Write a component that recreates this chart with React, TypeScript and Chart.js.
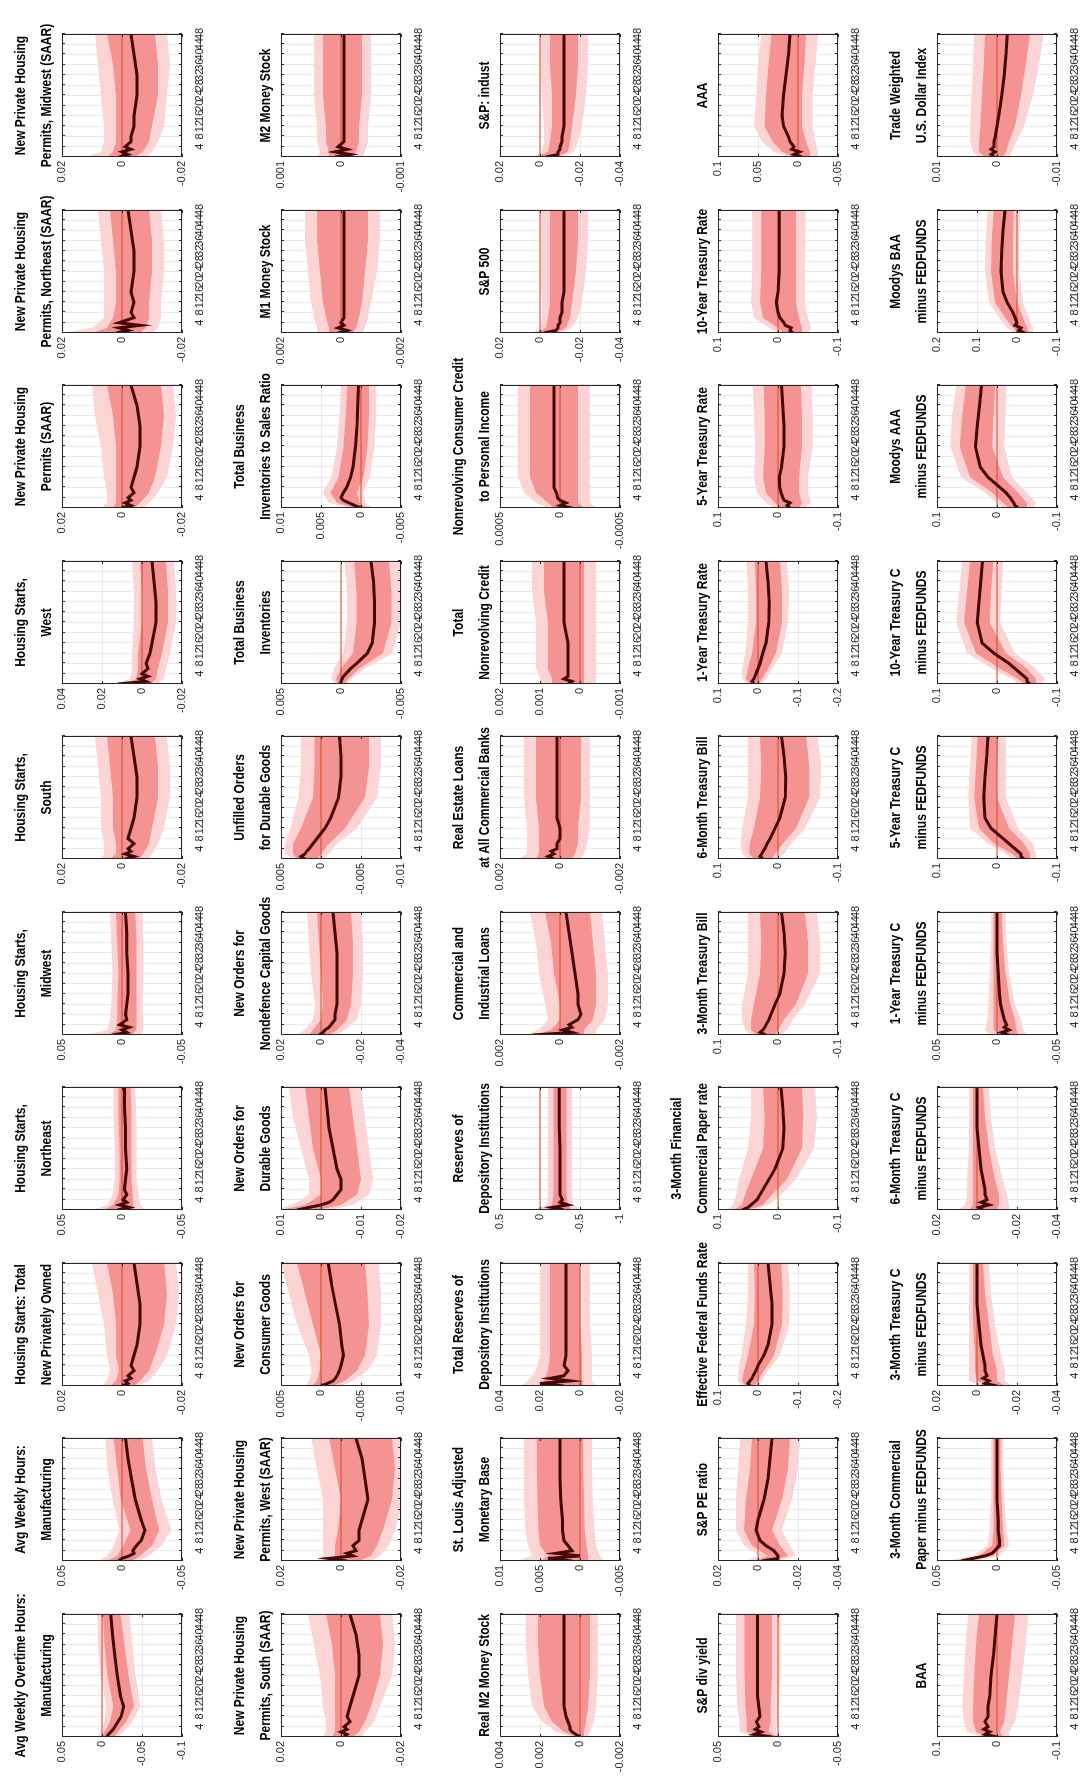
import React, { useEffect, useRef } from "react";
import { Chart, registerables } from "chart.js";
Chart.register(...registerables);

// ---------------- DATA ----------------
const H_MED = [0, 1, 2, 3, 4, 6, 8, 12, 16, 24, 32, 40, 48];
const H_BAND = [0, 2, 6, 12, 24, 36, 48];
const X_TICKS = [4, 8, 12, 16, 20, 24, 28, 32, 36, 40, 44, 48];

const TITLES: string[][] = [
  ["Avg Weekly Overtime Hours:", "Manufacturing"], ["Avg Weekly Hours:", "Manufacturing"], ["Housing Starts: Total", "New Privately Owned"], ["Housing Starts,", "Northeast"], ["Housing Starts,", "Midwest"], ["Housing Starts,", "South"], ["Housing Starts,", "West"], ["New Private Housing", "Permits (SAAR)"], ["New Private Housing", "Permits, Northeast (SAAR)"], ["New Private Housing", "Permits, Midwest (SAAR)"],
  ["New Private Housing", "Permits, South (SAAR)"], ["New Private Housing", "Permits, West (SAAR)"], ["New Orders for", "Consumer Goods"], ["New Orders for", "Durable Goods"], ["New Orders for", "Nondefence Capital Goods"], ["Unfilled Orders", "for Durable Goods"], ["Total Business", "Inventories"], ["Total Business", "Inventories to Sales Ratio"], ["M1 Money Stock"], ["M2 Money Stock"],
  ["Real M2 Money Stock"], ["St. Louis Adjusted", "Monetary Base"], ["Total Reserves of", "Depository Institutions"], ["Reserves of", "Depository Institutions"], ["Commercial and", "Industrial Loans"], ["Real Estate Loans", "at All Commercial Banks"], ["Total", "Nonrevolving Credit"], ["Nonrevolving Consumer Credit", "to Personal Income"], ["S&P 500"], ["S&P: indust"],
  ["S&P div yield"], ["S&P PE ratio"], ["Effective Federal Funds Rate"], ["3-Month Financial", "Commercial Paper rate"], ["3-Month Treasury Bill"], ["6-Month Treasury Bill"], ["1-Year Treasury Rate"], ["5-Year Treasury Rate"], ["10-Year Treasury Rate"], ["AAA"],
  ["BAA"], ["3-Month Commercial", "Paper minus FEDFUNDS"], ["3-Month Treasury C", "minus FEDFUNDS"], ["6-Month Treasury C", "minus FEDFUNDS"], ["1-Year Treasury C", "minus FEDFUNDS"], ["5-Year Treasury C", "minus FEDFUNDS"], ["10-Year Treasury C", "minus FEDFUNDS"], ["Moodys AAA", "minus FEDFUNDS"], ["Moodys BAA", "minus FEDFUNDS"], ["Trade Weighted", "U.S. Dollar Index"],
];

const Y_MIN = [
  -0.1, -0.05, -0.02, -0.05, -0.05, -0.02, -0.02, -0.02, -0.02, -0.02,
  -0.02, -0.02, -0.01, -0.02, -0.04, -0.01, -0.005, -0.005, -0.002, -0.001,
  -0.002, -0.005, -0.02, -1, -0.002, -0.002, -0.001, -0.0005, -0.04, -0.04,
  -0.05, -0.04, -0.2, -0.1, -0.1, -0.1, -0.2, -0.1, -0.1, -0.05,
  -0.1, -0.05, -0.04, -0.04, -0.05, -0.1, -0.1, -0.1, -0.1, -0.01,
];
const Y_MAX = [
  0.05, 0.05, 0.02, 0.05, 0.05, 0.02, 0.04, 0.02, 0.02, 0.02,
  0.02, 0.02, 0.005, 0.01, 0.02, 0.005, 0.005, 0.01, 0.002, 0.001,
  0.004, 0.01, 0.04, 0.5, 0.002, 0.002, 0.002, 0.0005, 0.02, 0.02,
  0.05, 0.02, 0.1, 0.1, 0.1, 0.1, 0.1, 0.1, 0.1, 0.1,
  0.1, 0.05, 0.02, 0.02, 0.05, 0.1, 0.1, 0.1, 0.2, 0.01,
];
const Y_TICKS: number[][] = [
  [0.05, 0, -0.05, -0.1], [0.05, 0, -0.05], [0.02, 0, -0.02], [0.05, 0, -0.05], [0.05, 0, -0.05], [0.02, 0, -0.02], [0.04, 0.02, 0, -0.02], [0.02, 0, -0.02], [0.02, 0, -0.02], [0.02, 0, -0.02],
  [0.02, 0, -0.02], [0.02, 0, -0.02], [0.005, 0, -0.005, -0.01], [0.01, 0, -0.01, -0.02], [0.02, 0, -0.02, -0.04], [0.005, 0, -0.005, -0.01], [0.005, 0, -0.005], [0.01, 0.005, 0, -0.005], [0.002, 0, -0.002], [0.001, 0, -0.001],
  [0.004, 0.002, 0, -0.002], [0.01, 0.005, 0, -0.005], [0.04, 0.02, 0, -0.02], [0.5, 0, -0.5, -1], [0.002, 0, -0.002], [0.002, 0, -0.002], [0.002, 0.001, 0, -0.001], [0.0005, 0, -0.0005], [0.02, 0, -0.02, -0.04], [0.02, 0, -0.02, -0.04],
  [0.05, 0, -0.05], [0.02, 0, -0.02, -0.04], [0.1, 0, -0.1, -0.2], [0.1, 0, -0.1], [0.1, 0, -0.1], [0.1, 0, -0.1], [0.1, 0, -0.1, -0.2], [0.1, 0, -0.1], [0.1, 0, -0.1], [0.1, 0.05, 0, -0.05],
  [0.1, 0, -0.1], [0.05, 0, -0.05], [0.02, 0, -0.02, -0.04], [0.02, 0, -0.02, -0.04], [0.05, 0, -0.05], [0.1, 0, -0.1], [0.1, 0, -0.1], [0.1, 0, -0.1], [0.2, 0.1, 0, -0.1], [0.01, 0, -0.01],
];

// median response at H_MED
const MED: number[][] = [
  [-0.006, -0.008, -0.011, -0.014, -0.016, -0.02, -0.024, -0.027, -0.023, -0.019, -0.016, -0.013, -0.011],
  [0.003, 0, -0.006, -0.01, -0.009, -0.012, -0.016, -0.019, -0.016, -0.011, -0.008, -0.005, -0.003],
  [0, -0.002, -0.001, -0.003, -0.002, -0.004, -0.003, -0.004, -0.005, -0.006, -0.006, -0.005, -0.004],
  [0.004, -0.006, 0.002, -0.004, -0.001, -0.004, -0.002, -0.003, -0.004, -0.003, -0.003, -0.002, -0.002],
  [0.008, -0.004, 0, -0.006, 0.002, -0.004, -0.003, -0.004, -0.005, -0.005, -0.004, -0.004, -0.003],
  [-0.001, -0.004, -0.001, -0.003, -0.002, -0.004, -0.002, -0.003, -0.004, -0.005, -0.005, -0.004, -0.003],
  [0.012, -0.002, 0.001, -0.003, 0, -0.003, -0.002, -0.004, -0.005, -0.007, -0.007, -0.006, -0.005],
  [0, -0.003, -0.001, -0.003, -0.002, -0.004, -0.003, -0.004, -0.005, -0.006, -0.006, -0.005, -0.003],
  [0.002, -0.002, 0.001, -0.006, 0.001, -0.004, -0.003, -0.004, -0.003, -0.004, -0.004, -0.003, -0.002],
  [0.001, -0.002, 0, -0.003, -0.001, -0.003, -0.003, -0.004, -0.004, -0.005, -0.005, -0.004, -0.003],
  [-0.001, -0.002, 0, -0.002, -0.001, -0.003, -0.002, -0.003, -0.004, -0.006, -0.006, -0.005, -0.003],
  [-0.002, 0.004, -0.004, -0.002, -0.005, -0.004, -0.006, -0.006, -0.007, -0.009, -0.008, -0.007, -0.005],
  [0, -0.0008, -0.0015, -0.0018, -0.002, -0.0023, -0.0025, -0.0028, -0.0026, -0.0023, -0.0018, -0.0013, -0.0009],
  [0.006, 0.003, 0, -0.002, -0.003, -0.004, -0.005, -0.005, -0.004, -0.003, -0.002, -0.0015, -0.001],
  [0.001, -0.001, -0.002, -0.004, -0.005, -0.007, -0.007, -0.008, -0.008, -0.008, -0.008, -0.007, -0.006],
  [0.002, 0.0025, 0.002, 0.0018, 0.0015, 0.001, 0.0005, -0.0005, -0.0012, -0.0022, -0.0025, -0.0025, -0.0023],
  [0, 0, -0.0001, -0.0002, -0.0004, -0.0008, -0.0013, -0.0022, -0.0026, -0.0028, -0.0028, -0.0027, -0.0025],
  [0, 0.0008, 0.0015, 0.0022, 0.0025, 0.0022, 0.0018, 0.0013, 0.001, 0.0007, 0.0005, 0.0004, 0.0003],
  [0.0001, -0.0002, 0.0001, -0.0001, 0, -0.0001, -0.0001, -0.0001, -0.0001, -0.0001, -0.0001, -0.0001, -0.0001],
  [0.0001, -0.00015, 0.0001, -0.0001, 0.00005, -0.00005, -0.00005, -0.00005, -0.00005, -0.00005, -0.00005, -0.00005, -0.00005],
  [0, 0.0002, 0.0004, 0.0005, 0.0005, 0.0006, 0.0007, 0.0008, 0.0008, 0.0008, 0.0008, 0.0008, 0.0008],
  [0.001, 0.004, 0, 0.003, 0.001, 0.0015, 0.002, 0.0022, 0.0022, 0.0024, 0.0025, 0.0025, 0.0025],
  [0.008, 0.02, 0.005, 0.015, 0.008, 0.006, 0.008, 0.007, 0.007, 0.007, 0.007, 0.007, 0.007],
  [-0.3, -0.15, -0.35, -0.25, -0.28, -0.25, -0.25, -0.25, -0.25, -0.25, -0.24, -0.24, -0.24],
  [0.0009, -0.0004, -0.0001, -0.0004, -0.0003, -0.0006, -0.0007, -0.0006, -0.0006, -0.0005, -0.0004, -0.0003, -0.0002],
  [0.0002, 0.0004, 0.0002, 0.0003, 0.0001, 0.0001, 0, 0, 0.0001, 0.0001, 0.0001, 0.0001, 0.0001],
  [0.0003, 0.0002, 0.0004, 0.0003, 0.0003, 0.0003, 0.0003, 0.0003, 0.0003, 0.0004, 0.0004, 0.0004, 0.0004],
  [-0.0001, 0, -0.00005, 0, 0.00002, 0.00003, 0.00005, 0.00005, 0.00005, 0.00005, 0.00005, 0.00005, 0.00005],
  [-0.002, -0.008, -0.009, -0.009, -0.01, -0.01, -0.011, -0.011, -0.012, -0.012, -0.012, -0.012, -0.012],
  [-0.003, -0.009, -0.009, -0.01, -0.01, -0.011, -0.011, -0.012, -0.012, -0.012, -0.012, -0.012, -0.012],
  [0.005, 0.02, 0.014, 0.019, 0.016, 0.018, 0.015, 0.016, 0.017, 0.017, 0.017, 0.017, 0.017],
  [-0.002, -0.01, -0.01, -0.009, -0.008, -0.004, -0.001, 0.001, 0, -0.003, -0.005, -0.006, -0.007],
  [0.02, 0.025, 0.02, 0.015, 0.012, 0.005, 0, -0.015, -0.025, -0.035, -0.035, -0.03, -0.025],
  [0.06, 0.05, 0.045, 0.04, 0.035, 0.03, 0.025, 0.015, 0.005, -0.008, -0.01, -0.008, -0.005],
  [0.02, 0.03, 0.025, 0.022, 0.02, 0.015, 0.012, 0.005, -0.003, -0.01, -0.012, -0.01, -0.006],
  [0.025, 0.03, 0.027, 0.025, 0.022, 0.018, 0.013, 0.005, -0.003, -0.012, -0.013, -0.01, -0.006],
  [0.01, 0.015, 0.01, 0.008, 0.005, 0, -0.005, -0.012, -0.02, -0.027, -0.028, -0.025, -0.02],
  [-0.02, -0.015, -0.02, -0.01, -0.008, -0.005, -0.003, -0.002, -0.006, -0.01, -0.01, -0.008, -0.006],
  [-0.025, -0.02, -0.022, -0.012, -0.01, -0.003, 0, 0.003, 0, -0.002, -0.002, -0.002, -0.002],
  [-0.005, 0.005, -0.002, 0.008, 0.005, 0.01, 0.012, 0.018, 0.02, 0.018, 0.015, 0.012, 0.01],
  [0, 0.02, 0.012, 0.022, 0.015, 0.02, 0.015, 0.015, 0.012, 0.01, 0.006, 0.003, 0],
  [0.03, 0.02, 0.01, 0.004, 0.002, -0.002, -0.002, -0.001, -0.001, 0, 0, 0, 0],
  [-0.01, -0.004, -0.006, -0.003, -0.005, -0.004, -0.004, -0.003, -0.002, -0.001, 0, 0, 0],
  [-0.003, -0.001, -0.006, -0.002, -0.005, -0.004, -0.004, -0.003, -0.002, -0.001, 0, 0, 0],
  [-0.01, -0.004, -0.01, -0.006, -0.008, -0.006, -0.005, -0.003, -0.002, -0.001, 0, 0, 0],
  [-0.045, -0.04, -0.04, -0.035, -0.03, -0.02, -0.01, 0.01, 0.02, 0.022, 0.02, 0.017, 0.015],
  [-0.055, -0.05, -0.05, -0.045, -0.04, -0.03, -0.02, 0.005, 0.025, 0.033, 0.03, 0.027, 0.024],
  [-0.035, -0.03, -0.028, -0.025, -0.022, -0.015, -0.005, 0.015, 0.028, 0.036, 0.033, 0.029, 0.026],
  [-0.02, -0.005, -0.01, 0.005, 0, 0.005, 0.01, 0.025, 0.035, 0.04, 0.038, 0.035, 0.03],
  [0.0005, 0.001, 0.0003, 0.001, 0.0005, 0.0005, 0.0003, 0, -0.0003, -0.0008, -0.0012, -0.0015, -0.0017],
];

// 90% band lower edge at H_BAND
const LO90: number[][] = [
  [-0.02, -0.027, -0.038, -0.048, -0.042, -0.038, -0.034],
  [-0.015, -0.022, -0.033, -0.041, -0.033, -0.028, -0.025],
  [-0.006, -0.009, -0.012, -0.015, -0.018, -0.019, -0.018],
  [-0.02, -0.015, -0.014, -0.012, -0.012, -0.012, -0.011],
  [-0.016, -0.018, -0.018, -0.017, -0.018, -0.018, -0.017],
  [-0.009, -0.01, -0.012, -0.014, -0.016, -0.016, -0.015],
  [-0.008, -0.011, -0.012, -0.014, -0.017, -0.017, -0.016],
  [-0.007, -0.009, -0.012, -0.015, -0.017, -0.018, -0.017],
  [-0.01, -0.012, -0.013, -0.013, -0.014, -0.014, -0.013],
  [-0.008, -0.01, -0.012, -0.014, -0.015, -0.016, -0.015],
  [-0.007, -0.008, -0.011, -0.013, -0.017, -0.018, -0.017],
  [-0.01, -0.013, -0.016, -0.018, -0.021, -0.022, -0.021],
  [-0.0025, -0.004, -0.0058, -0.007, -0.0075, -0.0075, -0.0072],
  [-0.002, -0.008, -0.012, -0.013, -0.012, -0.011, -0.01],
  [-0.008, -0.012, -0.018, -0.02, -0.021, -0.021, -0.02],
  [-0.0002, -0.001, -0.002, -0.0045, -0.007, -0.0075, -0.0075],
  [-0.0005, -0.0009, -0.002, -0.0043, -0.005, -0.005, -0.0049],
  [-0.0015, -0.0005, -0.0003, -0.0011, -0.0017, -0.0019, -0.0019],
  [-0.0007, -0.0008, -0.0009, -0.001, -0.0012, -0.0013, -0.0013],
  [-0.00035, -0.0004, -0.00045, -0.00045, -0.0005, -0.0005, -0.0005],
  [-0.0004, -0.0005, -0.0007, -0.0008, -0.0009, -0.0009, -0.0009],
  [-0.003, -0.0025, -0.002, -0.0018, -0.0016, -0.0015, -0.0015],
  [-0.008, -0.006, -0.006, -0.006, -0.005, -0.005, -0.005],
  [-0.5, -0.42, -0.4, -0.4, -0.4, -0.4, -0.4],
  [-0.0012, -0.0012, -0.0015, -0.0016, -0.0016, -0.0015, -0.0014],
  [-0.0007, -0.0008, -0.0009, -0.001, -0.001, -0.001, -0.001],
  [-0.0004, -0.0004, -0.0004, -0.0004, -0.0004, -0.0004, -0.0004],
  [-0.0003, -0.00025, -0.00025, -0.00025, -0.00025, -0.00025, -0.00025],
  [-0.01, -0.016, -0.019, -0.021, -0.023, -0.024, -0.024],
  [-0.011, -0.017, -0.019, -0.021, -0.023, -0.024, -0.024],
  [-0.005, 0.002, 0, 0, -0.002, -0.002, -0.002],
  [-0.01, -0.019, -0.016, -0.012, -0.017, -0.02, -0.021],
  [0, -0.01, -0.025, -0.055, -0.078, -0.08, -0.075],
  [0.04, 0.015, -0.005, -0.03, -0.06, -0.065, -0.062],
  [-0.005, -0.015, -0.025, -0.045, -0.07, -0.07, -0.065],
  [0, -0.01, -0.022, -0.045, -0.07, -0.072, -0.066],
  [-0.01, -0.02, -0.035, -0.06, -0.075, -0.078, -0.072],
  [-0.045, -0.055, -0.05, -0.05, -0.058, -0.058, -0.056],
  [-0.05, -0.055, -0.05, -0.045, -0.045, -0.046, -0.046],
  [-0.025, -0.025, -0.022, -0.018, -0.018, -0.022, -0.025],
  [-0.02, -0.02, -0.03, -0.035, -0.042, -0.048, -0.052],
  [0.018, -0.002, -0.01, -0.008, -0.006, -0.005, -0.005],
  [-0.018, -0.014, -0.014, -0.012, -0.009, -0.007, -0.006],
  [-0.016, -0.016, -0.015, -0.013, -0.009, -0.007, -0.006],
  [-0.025, -0.022, -0.02, -0.015, -0.01, -0.008, -0.007],
  [-0.065, -0.065, -0.06, -0.035, -0.015, -0.015, -0.015],
  [-0.075, -0.08, -0.065, -0.03, -0.005, -0.008, -0.01],
  [-0.06, -0.065, -0.05, -0.025, -0.012, -0.014, -0.016],
  [-0.04, -0.04, -0.03, -0.015, -0.005, -0.005, -0.008],
  [-0.002, -0.0025, -0.0032, -0.0045, -0.006, -0.007, -0.0078],
];

// 68% band lower edge
const LO68: number[][] = [
  [-0.015, -0.02, -0.03, -0.04, -0.033, -0.028, -0.023],
  [-0.008, -0.015, -0.025, -0.031, -0.025, -0.02, -0.017],
  [-0.004, -0.006, -0.009, -0.011, -0.014, -0.015, -0.014],
  [-0.01, -0.009, -0.009, -0.008, -0.008, -0.008, -0.007],
  [-0.008, -0.012, -0.012, -0.012, -0.012, -0.012, -0.011],
  [-0.006, -0.007, -0.009, -0.01, -0.012, -0.012, -0.011],
  [-0.004, -0.007, -0.008, -0.01, -0.013, -0.013, -0.012],
  [-0.004, -0.006, -0.009, -0.011, -0.013, -0.014, -0.013],
  [-0.006, -0.008, -0.009, -0.009, -0.01, -0.01, -0.009],
  [-0.004, -0.007, -0.009, -0.01, -0.012, -0.012, -0.011],
  [-0.004, -0.006, -0.008, -0.01, -0.013, -0.014, -0.013],
  [-0.006, -0.01, -0.012, -0.014, -0.017, -0.018, -0.017],
  [-0.0015, -0.003, -0.0045, -0.0055, -0.006, -0.0058, -0.0055],
  [0.001, -0.005, -0.009, -0.01, -0.009, -0.008, -0.007],
  [-0.004, -0.008, -0.013, -0.015, -0.016, -0.016, -0.015],
  [0.0005, 0, -0.001, -0.003, -0.0055, -0.006, -0.006],
  [-0.0003, -0.0006, -0.0015, -0.0035, -0.0042, -0.0042, -0.004],
  [-0.0008, 0.0002, 0.0005, -0.0003, -0.0008, -0.001, -0.001],
  [-0.0004, -0.0005, -0.0006, -0.0007, -0.0008, -0.0009, -0.0009],
  [-0.0002, -0.00025, -0.0003, -0.0003, -0.00035, -0.00035, -0.00035],
  [-0.0002, -0.0002, -0.0003, -0.0004, -0.0005, -0.0005, -0.0005],
  [-0.001, -0.001, -0.0008, -0.0006, -0.0005, -0.0004, -0.0004],
  [-0.002, -0.001, -0.001, -0.001, 0, 0, 0],
  [-0.4, -0.35, -0.33, -0.33, -0.33, -0.33, -0.33],
  [-0.0008, -0.0008, -0.0011, -0.0012, -0.0012, -0.0011, -0.001],
  [-0.0004, -0.0005, -0.0006, -0.0006, -0.0007, -0.0007, -0.0007],
  [-0.0001, -0.0001, -0.0001, -0.0001, -0.0001, -0.0001, -0.0001],
  [-0.0002, -0.00015, -0.00015, -0.00015, -0.00015, -0.00015, -0.00015],
  [-0.008, -0.013, -0.015, -0.016, -0.018, -0.019, -0.019],
  [-0.008, -0.014, -0.015, -0.016, -0.018, -0.019, -0.019],
  [0, 0.008, 0.006, 0.006, 0.005, 0.005, 0.005],
  [-0.006, -0.015, -0.011, -0.007, -0.012, -0.015, -0.016],
  [0.01, 0, -0.015, -0.04, -0.06, -0.062, -0.058],
  [0.05, 0.025, 0.01, -0.015, -0.04, -0.042, -0.04],
  [0.005, 0, -0.01, -0.03, -0.05, -0.05, -0.045],
  [0.01, 0.005, -0.008, -0.03, -0.052, -0.052, -0.047],
  [-0.002, -0.01, -0.025, -0.045, -0.06, -0.06, -0.055],
  [-0.035, -0.04, -0.035, -0.035, -0.04, -0.04, -0.038],
  [-0.04, -0.04, -0.035, -0.03, -0.03, -0.03, -0.03],
  [-0.015, -0.015, -0.01, -0.005, -0.005, -0.008, -0.01],
  [-0.01, -0.005, -0.012, -0.015, -0.02, -0.025, -0.03],
  [0.024, 0.004, -0.006, -0.005, -0.004, -0.003, -0.003],
  [-0.014, -0.01, -0.01, -0.008, -0.006, -0.004, -0.003],
  [-0.01, -0.011, -0.011, -0.009, -0.006, -0.004, -0.003],
  [-0.018, -0.016, -0.015, -0.011, -0.007, -0.005, -0.004],
  [-0.055, -0.055, -0.045, -0.02, 0, 0, -0.002],
  [-0.065, -0.065, -0.05, -0.015, 0.012, 0.01, 0.006],
  [-0.05, -0.05, -0.035, -0.01, 0.008, 0.006, 0.003],
  [-0.03, -0.025, -0.015, 0, 0.01, 0.01, 0.008],
  [-0.001, -0.0015, -0.002, -0.003, -0.004, -0.0048, -0.0055],
];

// 68% band upper edge
const HI68: number[][] = [
  [0.002, -0.003, -0.01, -0.014, -0.007, -0.003, -0.001],
  [0.013, 0.004, -0.001, -0.007, 0.001, 0.004, 0.007],
  [0.004, 0.002, 0.001, 0.002, 0.002, 0.003, 0.005],
  [0.015, 0.007, 0.003, 0.002, 0.002, 0.003, 0.003],
  [0.012, 0.005, 0.004, 0.004, 0.003, 0.004, 0.005],
  [0.004, 0.002, 0.002, 0.003, 0.003, 0.004, 0.005],
  [0.008, 0.003, 0.002, 0.002, 0, 0, 0.001],
  [0.003, 0.002, 0.002, 0.002, 0.002, 0.003, 0.005],
  [0.01, 0.005, 0.003, 0.002, 0.002, 0.003, 0.004],
  [0.005, 0.003, 0.002, 0.002, 0.002, 0.003, 0.005],
  [0.003, 0.002, 0.002, 0.002, 0.002, 0.003, 0.005],
  [0.004, 0.002, 0.002, 0.001, 0, 0.002, 0.004],
  [0.0012, 0.0005, 0.0002, 0, 0.001, 0.002, 0.003],
  [0.01, 0.004, 0, 0, 0.002, 0.003, 0.004],
  [0.006, 0.004, 0, -0.001, 0, 0.001, 0.002],
  [0.003, 0.0035, 0.0035, 0.0025, 0.001, 0.0008, 0.0008],
  [0.0003, 0.0004, 0, -0.001, -0.0013, -0.0013, -0.0011],
  [0.0008, 0.003, 0.0038, 0.0028, 0.0022, 0.0019, 0.0017],
  [0.0004, 0.0004, 0.0005, 0.0006, 0.0007, 0.0008, 0.0008],
  [0.0002, 0.0002, 0.00025, 0.00025, 0.0003, 0.0003, 0.0003],
  [0.0002, 0.0008, 0.0014, 0.0018, 0.002, 0.0021, 0.0021],
  [0.005, 0.004, 0.005, 0.0052, 0.0053, 0.0054, 0.0054],
  [0.02, 0.018, 0.016, 0.015, 0.015, 0.015, 0.015],
  [-0.05, -0.15, -0.17, -0.17, -0.17, -0.17, -0.17],
  [0.0008, 0.0003, 0, 0, 0.0002, 0.0003, 0.0005],
  [0.0008, 0.0007, 0.0007, 0.0007, 0.0008, 0.0008, 0.0008],
  [0.0007, 0.0007, 0.0008, 0.0008, 0.0008, 0.0009, 0.0009],
  [0.00005, 0.0001, 0.0002, 0.00025, 0.00025, 0.00025, 0.00025],
  [0.002, -0.003, -0.004, -0.005, -0.005, -0.005, -0.005],
  [0.002, -0.004, -0.005, -0.006, -0.006, -0.005, -0.005],
  [0.012, 0.026, 0.026, 0.027, 0.028, 0.028, 0.028],
  [0.002, -0.005, 0.003, 0.007, 0.006, 0.004, 0.003],
  [0.03, 0.04, 0.035, 0.025, 0.01, 0.008, 0.01],
  [0.075, 0.06, 0.055, 0.045, 0.025, 0.022, 0.025],
  [0.035, 0.045, 0.045, 0.04, 0.03, 0.028, 0.03],
  [0.04, 0.048, 0.047, 0.04, 0.03, 0.028, 0.03],
  [0.02, 0.03, 0.025, 0.015, 0.005, 0.005, 0.008],
  [-0.005, 0.005, 0.02, 0.025, 0.022, 0.022, 0.024],
  [-0.01, 0, 0.025, 0.03, 0.028, 0.028, 0.028],
  [0.005, 0.02, 0.032, 0.042, 0.04, 0.037, 0.033],
  [0.015, 0.035, 0.04, 0.04, 0.038, 0.035, 0.03],
  [0.036, 0.015, 0.004, 0.003, 0.003, 0.003, 0.003],
  [-0.006, 0, 0.001, 0.001, 0.002, 0.002, 0.002],
  [0.004, 0.002, 0.002, 0.002, 0.002, 0.002, 0.002],
  [-0.002, 0.003, 0.003, 0.003, 0.003, 0.003, 0.003],
  [-0.035, -0.025, 0.005, 0.03, 0.038, 0.035, 0.032],
  [-0.045, -0.035, -0.005, 0.035, 0.055, 0.05, 0.045],
  [-0.02, -0.01, 0.008, 0.045, 0.062, 0.058, 0.052],
  [-0.005, 0.01, 0.03, 0.055, 0.065, 0.063, 0.058],
  [0.002, 0.003, 0.003, 0.0028, 0.0025, 0.0022, 0.002],
];

// 90% band upper edge
const HI90: number[][] = [
  [0.006, 0.002, -0.003, -0.005, 0.002, 0.005, 0.006],
  [0.02, 0.012, 0.007, 0.002, 0.008, 0.012, 0.014],
  [0.007, 0.005, 0.004, 0.005, 0.006, 0.008, 0.01],
  [0.025, 0.012, 0.008, 0.006, 0.006, 0.007, 0.007],
  [0.03, 0.012, 0.01, 0.009, 0.008, 0.009, 0.01],
  [0.007, 0.006, 0.006, 0.007, 0.007, 0.008, 0.009],
  [0.014, 0.006, 0.005, 0.005, 0.004, 0.004, 0.005],
  [0.007, 0.005, 0.005, 0.006, 0.007, 0.009, 0.01],
  [0.02, 0.01, 0.006, 0.006, 0.006, 0.007, 0.008],
  [0.012, 0.007, 0.006, 0.006, 0.007, 0.008, 0.009],
  [0.006, 0.005, 0.005, 0.006, 0.007, 0.009, 0.011],
  [0.008, 0.006, 0.006, 0.006, 0.006, 0.008, 0.01],
  [0.002, 0.0015, 0.0012, 0.0015, 0.003, 0.004, 0.005],
  [0.012, 0.007, 0.003, 0.003, 0.005, 0.007, 0.008],
  [0.012, 0.008, 0.004, 0.003, 0.005, 0.006, 0.007],
  [0.0035, 0.0045, 0.0045, 0.0038, 0.0028, 0.0025, 0.0025],
  [0.0005, 0.0008, 0.0006, -0.0002, -0.0005, -0.0005, -0.0003],
  [0.0015, 0.004, 0.0048, 0.0037, 0.003, 0.0027, 0.0025],
  [0.0008, 0.0008, 0.0009, 0.001, 0.0011, 0.0012, 0.0012],
  [0.0004, 0.00035, 0.0004, 0.0004, 0.00045, 0.00045, 0.00045],
  [0.0004, 0.0012, 0.0019, 0.0024, 0.0026, 0.0027, 0.0027],
  [0.008, 0.006, 0.0065, 0.0068, 0.007, 0.007, 0.007],
  [0.03, 0.026, 0.022, 0.02, 0.02, 0.02, 0.02],
  [0.05, -0.08, -0.1, -0.1, -0.1, -0.1, -0.1],
  [0.0012, 0.0007, 0.0004, 0.0005, 0.0007, 0.0008, 0.001],
  [0.0014, 0.0011, 0.0011, 0.0011, 0.0012, 0.0012, 0.0012],
  [0.001, 0.001, 0.0011, 0.0011, 0.0011, 0.0012, 0.0012],
  [0.0001, 0.0002, 0.0003, 0.00035, 0.00035, 0.00035, 0.00035],
  [0.004, 0, -0.001, -0.001, 0, 0, 0],
  [0.004, -0.001, -0.002, -0.002, -0.001, 0, 0],
  [0.016, 0.032, 0.032, 0.034, 0.035, 0.035, 0.035],
  [0.006, -0.001, 0.007, 0.011, 0.011, 0.01, 0.009],
  [0.04, 0.05, 0.05, 0.042, 0.03, 0.025, 0.025],
  [0.085, 0.075, 0.07, 0.065, 0.05, 0.045, 0.045],
  [0.045, 0.055, 0.06, 0.06, 0.05, 0.05, 0.05],
  [0.05, 0.06, 0.062, 0.06, 0.05, 0.05, 0.05],
  [0.028, 0.04, 0.04, 0.032, 0.025, 0.025, 0.028],
  [0.005, 0.02, 0.035, 0.04, 0.038, 0.04, 0.042],
  [0, 0.015, 0.04, 0.045, 0.043, 0.043, 0.043],
  [0.012, 0.03, 0.045, 0.055, 0.052, 0.05, 0.046],
  [0.025, 0.05, 0.055, 0.058, 0.055, 0.052, 0.048],
  [0.042, 0.02, 0.008, 0.006, 0.005, 0.005, 0.005],
  [-0.002, 0.004, 0.004, 0.004, 0.004, 0.004, 0.004],
  [0.01, 0.006, 0.005, 0.005, 0.004, 0.004, 0.004],
  [0.006, 0.01, 0.008, 0.007, 0.006, 0.005, 0.005],
  [-0.025, -0.015, 0.015, 0.045, 0.048, 0.045, 0.042],
  [-0.035, -0.025, 0.008, 0.05, 0.068, 0.063, 0.058],
  [-0.01, 0, 0.02, 0.06, 0.078, 0.075, 0.068],
  [0.005, 0.025, 0.045, 0.07, 0.08, 0.078, 0.073],
  [0.003, 0.004, 0.0045, 0.0045, 0.0042, 0.004, 0.0038],
];

// ---------------- STYLE / LAYOUT ----------------
const FONT = '"Liberation Sans", Arial, Helvetica, sans-serif';
const OUTER = "rgb(252, 212, 212)";
const INNER = "rgb(245, 146, 146)";
const MED_COLOR = "#460606";
const ZERO_COLOR = "rgb(212, 72, 36)";
const GRID = "rgba(215, 215, 215, 0.55)";
const AXIS = "#262626";
const TITLE_SX = 0.8;
const TICK_SX = 1.0;

const FIG_W = 1778;
const FIG_H = 1083;
const BOX_W = 123;
const BOX_H = 120;
const PAD_L = 70;
const PAD_R = 70;
const PAD_T = 62;
const PAD_B = 35;
const CAN_W = PAD_L + BOX_W + PAD_R;
const CAN_H = PAD_T + BOX_H + PAD_B;

const boxLeft = (c: number) => Math.round(41 + 175.56 * c);
const boxTop = (r: number) => Math.round(62 + 218.75 * r);

function squeezedText(ctx: any, t: string, x: number, y: number, align: string, sx: number) {
  ctx.save();
  ctx.translate(x, y);
  ctx.scale(sx, 1);
  ctx.textAlign = align;
  ctx.fillText(t, 0, 0);
  ctx.restore();
}

const decor = {
  id: "decor",
  afterDraw(chart: any, _args: any, opts: any) {
    const { ctx, chartArea: a, scales } = chart;
    ctx.save();
    ctx.strokeStyle = AXIS;
    ctx.lineWidth = 1;
    ctx.strokeRect(a.left + 0.5, a.top + 0.5, a.right - a.left - 1, a.bottom - a.top - 1);
    ctx.beginPath();
    for (const v of X_TICKS) {
      const x = Math.round(scales.x.getPixelForValue(v)) + 0.5;
      ctx.moveTo(x, a.bottom);
      ctx.lineTo(x, a.bottom - 3);
      ctx.moveTo(x, a.top);
      ctx.lineTo(x, a.top + 3);
    }
    for (const v of opts.yTicks as number[]) {
      const y = Math.round(scales.y.getPixelForValue(v)) + 0.5;
      ctx.moveTo(a.left, y);
      ctx.lineTo(a.left + 3, y);
      ctx.moveTo(a.right, y);
      ctx.lineTo(a.right - 3, y);
    }
    ctx.stroke();

    // tick labels
    ctx.fillStyle = AXIS;
    ctx.font = `11px ${FONT}`;
    ctx.textBaseline = "middle";
    for (const v of opts.yTicks as number[]) {
      squeezedText(ctx, String(v), a.left - 4, scales.y.getPixelForValue(v), "right", TICK_SX);
    }
    ctx.textBaseline = "top";
    for (const v of X_TICKS) {
      squeezedText(ctx, String(v), scales.x.getPixelForValue(v), a.bottom + 12, "center", TICK_SX);
    }

    // title
    ctx.fillStyle = "#000";
    ctx.font = `bold 15px ${FONT}`;
    ctx.textBaseline = "alphabetic";
    const cx = (a.left + a.right) / 2;
    const lines: string[] = opts.title;
    lines.forEach((t, i) => {
      const k = lines.length - 1 - i;
      squeezedText(ctx, t, cx, a.top - 11 - 26 * k, "center", TITLE_SX);
    });
    ctx.restore();
  },
};

function Panel({ idx }: { idx: number }) {
  const ref = useRef<HTMLCanvasElement>(null);
  const r = Math.floor(idx / 10);
  const c = idx % 10;
  useEffect(() => {
    if (!ref.current) return;
    const pts = (xs: number[], ys: number[]) => xs.map((x, i) => ({ x, y: ys[i] }));
    const band = { borderWidth: 0, borderColor: "transparent", pointRadius: 0, tension: 0 };
    const chart = new Chart(ref.current, {
      type: "line",
      data: {
        datasets: [
          { ...band, data: pts(H_BAND, LO90[idx]), fill: false, order: 4 },
          { ...band, data: pts(H_BAND, HI90[idx]), fill: "-1", backgroundColor: OUTER, order: 4 },
          { ...band, data: pts(H_BAND, LO68[idx]), fill: false, order: 3 },
          { ...band, data: pts(H_BAND, HI68[idx]), fill: "-1", backgroundColor: INNER, order: 3 },
          { data: [{ x: 0, y: 0 }, { x: 48, y: 0 }], borderColor: ZERO_COLOR, borderWidth: 1, pointRadius: 0, fill: false, order: 2 },
          { data: pts(H_MED, MED[idx]), borderColor: MED_COLOR, borderWidth: 3, pointRadius: 0, fill: false, tension: 0, order: 1 },
        ] as any,
      },
      options: {
        animation: false,
        responsive: false,
        devicePixelRatio: 1,
        events: [],
        layout: { autoPadding: false, padding: { left: 0, right: PAD_R, top: PAD_T, bottom: 0 } } as any,
        plugins: {
          legend: { display: false },
          tooltip: { enabled: false },
          title: { display: false },
          decor: { title: TITLES[idx], yTicks: Y_TICKS[idx] },
        } as any,
        scales: {
          x: {
            type: "linear",
            min: 0,
            max: 48,
            z: 1,
            afterBuildTicks: (s: any) => {
              s.ticks = X_TICKS.map((v) => ({ value: v }));
            },
            afterFit: (s: any) => {
              s.height = PAD_B;
            },
            ticks: { display: false, autoSkip: false, maxRotation: 0, minRotation: 0 },
            grid: { color: GRID, drawTicks: false, lineWidth: 1 },
            border: { display: false },
          },
          y: {
            type: "linear",
            min: Y_MIN[idx],
            max: Y_MAX[idx],
            z: 1,
            afterBuildTicks: (s: any) => {
              s.ticks = Y_TICKS[idx].map((v) => ({ value: v }));
            },
            afterFit: (s: any) => {
              s.width = PAD_L;
            },
            ticks: { display: false, autoSkip: false },
            grid: { color: GRID, drawTicks: false, lineWidth: 1 },
            border: { display: false },
          },
        } as any,
      },
      plugins: [decor],
    });
    return () => chart.destroy();
  }, [idx]);
  return (
    <canvas
      ref={ref}
      width={CAN_W}
      height={CAN_H}
      style={{ position: "absolute", left: boxLeft(c) - PAD_L, top: boxTop(r) - PAD_T, width: CAN_W, height: CAN_H }}
    />
  );
}

export default function App() {
  const panels = [];
  for (let i = 0; i < 50; i++) panels.push(<Panel key={i} idx={i} />);
  return (
    <div style={{ position: "absolute", left: 0, top: 0, width: 1083, height: 1778, overflow: "hidden", background: "#fff" }}>
      <div
        style={{
          position: "absolute",
          left: 0,
          top: 0,
          width: FIG_W,
          height: FIG_H,
          transformOrigin: "0 0",
          transform: "translate(0px, 1778px) rotate(-90deg)",
        }}
      >
        {panels}
      </div>
    </div>
  );
}
